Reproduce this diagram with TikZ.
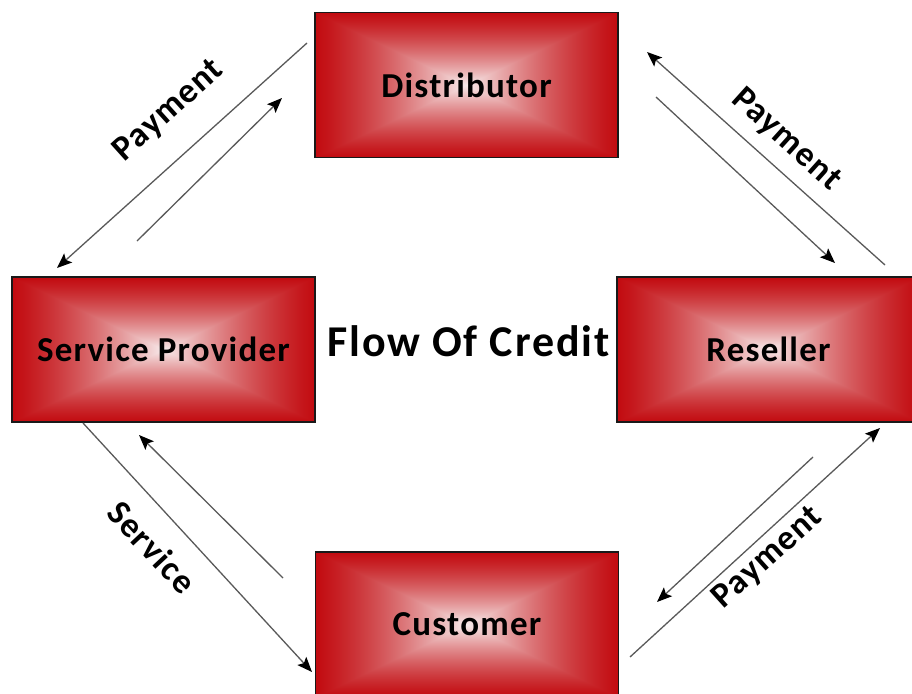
\documentclass[tikz,border=0pt]{standalone}
\usepackage{fontspec}
\setmainfont{Carlito}
\newfontfamily\widefont[LetterSpace=3.5]{Carlito}
\newfontfamily\titlefont[LetterSpace=4.5]{Carlito}
\usetikzlibrary{
    arrows.meta
}

% red box fill: white in the middle, deep red towards the border
\pgfdeclarefunctionalshading{redbox}{\pgfpoint{-50bp}{-50bp}}{\pgfpoint{50bp}{50bp}}{}{
    abs exch abs 2 copy lt {exch} if pop
    25 div dup 1 gt {pop 1} if
    dup 0.4 mul 1.4 exch sub mul
    dup dup
    0.21 mul 0.97 exch sub
    3 1 roll
    0.88 mul 0.92 exch sub
    exch
    0.86 mul 0.92 exch sub
}

\begin{document}
\begin{tikzpicture}[
    x=1pt,
    y=-1pt,
    party/.style = {
        draw=black!90,
        line width=1.2pt,
        rectangle,
        shade,
        shading=redbox,
        inner sep=0pt,
        minimum width=303pt,
        minimum height=145pt,
        font=\widefont\fontsize{35}{40}\selectfont\bfseries
    },
    flow/.style = {
        draw=black!65,
        line width=1.3pt,
        -{Stealth[length=15pt,width=12pt,inset=3pt,color=black]}
    },
    tag/.style = {
        font=\widefont\fontsize{35}{40}\selectfont\bfseries
    },
]
    \useasboundingbox (0,0) rectangle (912,693);

    % Boxes
    \node [party] (distributor) at (466.5,85)  {Distributor};
    \node [party] (provider)    at (163.5,349.5) {Service Provider};
    \node [party] (reseller)    at (768.5,349.5) {Reseller};
    \node [party] (customer)    at (467,624.5) {Customer};

    \node [font=\titlefont\fontsize{44}{50}\selectfont\bfseries] (title) at (468.5,341) {Flow Of Credit};

    % Arrow end points
    \coordinate (dist_sp_1) at (307,43);
    \coordinate (dist_sp_2) at (57,268);
    \coordinate (sp_dist_1) at (137,241);
    \coordinate (sp_dist_2) at (282,98);

    \coordinate (res_dist_1) at (885,265);
    \coordinate (res_dist_2) at (647,52);
    \coordinate (dist_res_1) at (656,97);
    \coordinate (dist_res_2) at (835,263);

    \coordinate (sp_cust_1) at (83,423);
    \coordinate (sp_cust_2) at (312,672);
    \coordinate (cust_sp_1) at (283,578);
    \coordinate (cust_sp_2) at (139,435);

    \coordinate (cust_res_1) at (630,657);
    \coordinate (cust_res_2) at (880,428);
    \coordinate (res_cust_1) at (813,457);
    \coordinate (res_cust_2) at (657,602);

    \begin{scope}
        \draw [flow] (dist_sp_1) -- (dist_sp_2);
        \draw [flow] (sp_dist_1) -- (sp_dist_2);

        \draw [flow] (res_dist_1) -- (res_dist_2);
        \draw [flow] (dist_res_1) -- (dist_res_2);

        \draw [flow] (sp_cust_1) -- (sp_cust_2);
        \draw [flow] (cust_sp_1) -- (cust_sp_2);

        \draw [flow] (cust_res_1) -- (cust_res_2);
        \draw [flow] (res_cust_1) -- (res_cust_2);

        \node [tag, rotate=42]  (pay_left)  at (169,111) {Payment};
        \node [tag, rotate=-42] (pay_right) at (786,140) {Payment};
        \node [tag, rotate=-47] (service)   at (152,547) {Service};
        \node [tag, rotate=42]  (pay_low)   at (768,558) {Payment};
    \end{scope}
\end{tikzpicture}
\end{document}
